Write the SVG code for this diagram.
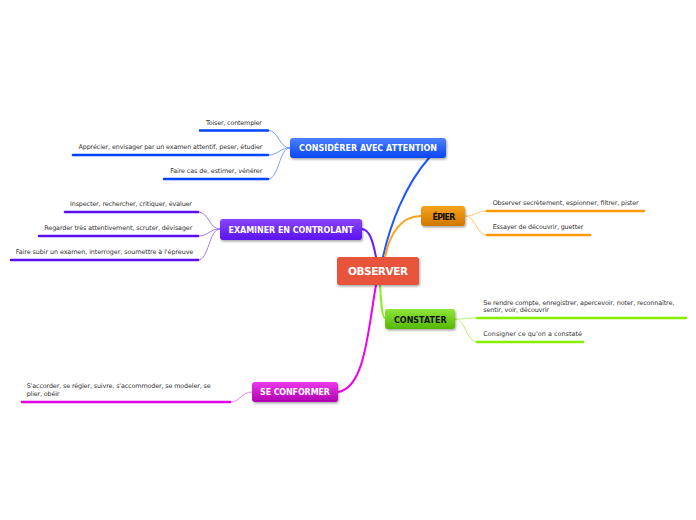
<svg xmlns="http://www.w3.org/2000/svg" width="696" height="520" viewBox="0 0 696 520">
<style>
.nt{font-family:"DejaVu Sans","Liberation Sans",sans-serif;font-weight:bold;text-anchor:middle}
.st{font-family:"DejaVu Sans","Liberation Sans",sans-serif;font-size:6.4px;fill:#333}
.r{text-anchor:end}
.ul{fill:none;stroke-width:2.6;stroke-linecap:round}
.sc{fill:none;stroke-width:0.9}
.mc{fill:none;stroke-width:2;stroke-linecap:round}
</style>
<defs>
<filter id="sh" x="-20%" y="-30%" width="140%" height="170%"><feDropShadow dx="1" dy="1.5" stdDeviation="1" flood-color="#000" flood-opacity="0.35"/></filter>
<linearGradient id="gB" x1="0" y1="0" x2="0" y2="1"><stop offset="0" stop-color="#4a80ff"/><stop offset="1" stop-color="#0a46f2"/></linearGradient>
<linearGradient id="gP" x1="0" y1="0" x2="0" y2="1"><stop offset="0" stop-color="#8a44ff"/><stop offset="1" stop-color="#5a12ee"/></linearGradient>
<linearGradient id="gO" x1="0" y1="0" x2="0" y2="1"><stop offset="0" stop-color="#f7a41a"/><stop offset="1" stop-color="#d07600"/></linearGradient>
<linearGradient id="gG" x1="0" y1="0" x2="0" y2="1"><stop offset="0" stop-color="#8ee63a"/><stop offset="1" stop-color="#55b800"/></linearGradient>
<linearGradient id="gM" x1="0" y1="0" x2="0" y2="1"><stop offset="0" stop-color="#ec3aec"/><stop offset="1" stop-color="#b000b0"/></linearGradient>
</defs>
<rect width="696" height="520" fill="#fff"/>
<g id="connectors">
<path class="mc" stroke="#1e55ff" d="M383,257 C390,225 405,185 429,158"/>
<path class="mc" stroke="#ffa31a" stroke-width="1.5" d="M385,257 C390,232 402,216 421,216"/>
<path class="mc" stroke="#6a1bff" stroke-width="1.5" d="M376,257 C373,242 370,230 362,229"/>
<path class="mc" stroke="#88ee22" stroke-width="1.5" d="M380,285 C381,300 382,318 385,318"/>
<path class="mc" stroke="#ee00ee" d="M376,285 C368,330 365,388 338,392"/>
<path class="sc" stroke="#6e94ff" d="M290,148 C279,148 279,130.5 268,130.5 M290,148 C279,148 279,155 268,155 M290,148 C279,148 279,179 268,179"/>
<path class="sc" stroke="#9a6bff" d="M220,229 C209,229 209,212 198,212 M220,229 C209,229 209,236 198,236 M220,229 C209,229 209,260 198,260"/>
<path class="sc" stroke="#ffc266" d="M465,216 C476,216 476,211 487,211 M465,216 C476,216 476,235 487,235"/>
<path class="sc" stroke="#b4f066" d="M455,319 C466,319 466,318 477,318 M455,319 C466,319 466,342 477,342"/>
<path class="sc" stroke="#f070f0" d="M252,392 C241,392 241,402 230,402"/>
</g>
<g id="n-observer"><rect x="337" y="257" width="82" height="28" rx="2.5" fill="#e8533a" filter="url(#sh)"/><text class="nt" x="378" y="274.5" font-size="10.5" fill="#fff" textLength="60">OBSERVER</text></g>
<g id="n-considerer">
<rect x="290" y="138" width="156" height="20" rx="3" fill="url(#gB)" filter="url(#sh)"/>
<text class="nt" x="368" y="151" font-size="8" fill="#fff" textLength="138">CONSIDÉRER AVEC ATTENTION</text>
<path class="ul" stroke="#0044ff" d="M200,130.5 H268 M73,155 H268 M164,179 H268"/>
<text class="st r" x="262" y="124.5" textLength="56">Toiser, contempler</text>
<text class="st r" x="262.5" y="148.5" textLength="184">Apprécier, envisager par un examen attentif, peser, étudier</text>
<text class="st r" x="262.3" y="172.5" textLength="92">Faire cas de, estimer, vénérer</text>
</g>
<g id="n-examiner">
<rect x="220" y="219" width="142" height="21" rx="3" fill="url(#gP)" filter="url(#sh)"/>
<text class="nt" x="291" y="232.7" font-size="8" fill="#fff" textLength="125">EXAMINER EN CONTROLANT</text>
<path class="ul" stroke="#5a10ee" d="M65,212 H198 M39,236 H198 M11,260 H198"/>
<text class="st r" x="192" y="206" textLength="122">Inspecter, rechercher, critiquer, évaluer</text>
<text class="st r" x="192.3" y="230" textLength="148">Regarder très attentivement, scruter, dévisager</text>
<text class="st r" x="193.3" y="254" textLength="177.6">Faire subir un examen, interroger, soumettre à l'épreuve</text>
</g>
<g id="n-epier">
<rect x="421" y="206" width="44" height="20" rx="3" fill="url(#gO)" filter="url(#sh)"/>
<text class="nt" x="444" y="219.5" font-size="8" fill="#111" textLength="23">ÉPIER</text>
<path class="ul" stroke="#ff9900" d="M487,211 H644 M487,235 H590"/>
<text class="st" x="492.7" y="205" textLength="146">Observer secrètement, espionner, filtrer, pister</text>
<text class="st" x="492.7" y="228.5" textLength="90.7">Essayer de découvrir, guetter</text>
</g>
<g id="n-constater">
<rect x="385" y="309" width="70" height="20" rx="3" fill="url(#gG)" filter="url(#sh)"/>
<text class="nt" x="420.3" y="322.5" font-size="8" fill="#111" textLength="52.7">CONSTATER</text>
<path class="ul" stroke="#88ee00" d="M477,318 H686 M477,342 H583"/>
<text class="st" x="483.3" y="305" textLength="191">Se rendre compte, enregistrer, apercevoir, noter, reconnaître,</text>
<text class="st" x="483.3" y="312" textLength="65.7">sentir, voir, découvrir</text>
<text class="st" x="483.3" y="335.5" textLength="98.7">Consigner ce qu'on a constaté</text>
</g>
<g id="n-seconformer">
<rect x="252" y="382" width="86" height="20" rx="3" fill="url(#gM)" filter="url(#sh)"/>
<text class="nt" x="295" y="395" font-size="8" fill="#fff" textLength="70">SE CONFORMER</text>
<path class="ul" stroke="#e000e0" d="M22,402 H230"/>
<text class="st" x="26.7" y="388" textLength="184">S'accorder, se régler, suivre, s'accommoder, se modeler, se</text>
<text class="st" x="26.7" y="396" textLength="32.7">plier, obéir</text>
</g>
</svg>
